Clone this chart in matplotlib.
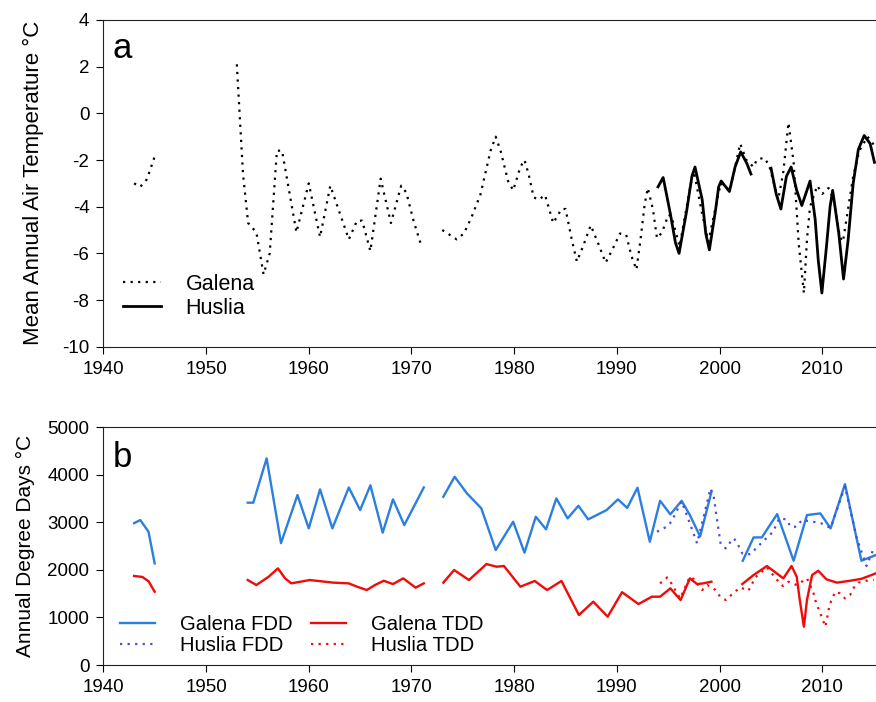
import matplotlib
matplotlib.use("Agg")
import matplotlib.pyplot as plt
import numpy as np

plt.rcParams['font.family'] = ['Liberation Sans', 'DejaVu Sans']
plt.rcParams['axes.unicode_minus'] = False

nan = np.nan

# ---- panel a: mean annual air temperature (deg C), nan = gap in record
galena_t_yr = [1943.0, 1943.6, 1944.2, 1944.5, 1945.0, nan,
               1953.0, 1953.6, 1954.1, 1954.9, 1955.6, 1956.2, 1956.9, 1957.4, 1958.8,
               1960.0, 1961.1, 1962.1, 1963.9, 1964.7, 1965.2, 1966.0, 1967.0, 1968.0,
               1969.0, 1969.5, 1970.2, 1970.9, nan,
               1973.0, 1974.4, 1975.1, 1975.8, 1976.7, 1977.7, 1978.2, 1978.7, 1979.4,
               1979.9, 1980.6, 1981.0, 1981.4, 1981.9, 1982.4, 1983.0, 1983.8, 1984.6,
               1985.0, 1985.6, 1986.1, 1986.7, 1987.45, 1988.2, 1988.9, 1989.6, 1990.3,
               1990.9, 1991.4, 1991.9, 1992.3, 1992.7, 1993.0, 1993.5, 1993.9, 1994.4,
               1995.0, 1995.3, 1996.1, 1997.2, 1997.5, 1998.2, 1998.9, 2000.1, 2001.0,
               2002.0, 2002.6, 2003.3, 2003.6, 2004.3, 2004.8, 2005.7, 2006.2, 2006.7,
               2007.2, 2007.7, 2008.2, 2008.5, 2008.8, 2009.5, 2010.0, 2010.6, 2011.1,
               2011.7, 2012.0, 2013.0, 2013.6, 2014.4, 2015.1]
galena_t = [-3.0, -3.15, -2.85, -2.5, -1.85, nan,
            2.1, -2.6, -4.7, -5.1, -6.9, -6.0, -1.6, -1.6, -5.1,
            -3.0, -5.3, -3.1, -5.4, -4.6, -4.6, -5.9, -2.8, -4.7,
            -3.1, -3.4, -4.6, -5.6, nan,
            -5.0, -5.4, -5.15, -4.5, -3.5, -1.6, -1.0, -1.65, -2.9,
            -3.3, -2.3, -2.0, -2.6, -3.6, -3.7, -3.5, -4.7, -4.1,
            -4.1, -5.4, -6.35, -5.7, -4.8, -5.6, -6.4, -5.8, -5.15,
            -5.2, -6.1, -6.7, -5.4, -3.9, -3.2, -4.1, -5.35, -5.1,
            -4.35, -4.4, -5.7, -3.0, -2.5, -4.1, -5.5, -3.0, -3.3,
            -1.3, -2.0, -2.3, -2.0, -1.9, -2.2, -3.7, -2.5, -0.4,
            -2.1, -5.6, -7.7, -5.4, -4.0, -3.1, -3.45, -3.2, -3.7,
            -5.3, -5.5, -2.7, -1.6, -1.0, -1.4]

huslia_t_yr = [1994.0, 1994.5, 1995.2, 1995.7, 1996.05, 1996.8, 1997.3, 1997.6, 1998.3,
               1998.65, 1999.0, 1999.6, 1999.9, 2000.15, 2000.95, 2001.5, 2002.05,
               2002.65, 2003.05, nan,
               2005.0, 2005.5, 2005.96, 2006.5, 2006.96, 2007.5, 2008.0, 2008.8, 2009.3,
               2009.6, 2009.95, 2010.4, 2010.75, 2011.0, 2011.6, 2012.06, 2012.5, 2013.0,
               2013.5, 2014.07, 2014.65, 2015.07]
huslia_t = [-3.15, -2.75, -4.3, -5.55, -6.0, -4.15, -2.7, -2.3, -3.7,
            -5.15, -5.85, -4.15, -3.15, -2.9, -3.35, -2.3, -1.65,
            -2.15, -2.6, nan,
            -2.35, -3.45, -4.1, -2.7, -2.3, -3.3, -3.95, -2.9, -4.55,
            -6.3, -7.7, -5.7, -4.0, -3.3, -5.15, -7.1, -5.45, -3.0,
            -1.55, -0.95, -1.3, -2.1]

# ---- panel b: annual degree days (deg C days)
galena_fdd_yr = [1943.0, 1943.6, 1944.4, 1945.0, nan,
                 1954.06, 1954.6, 1955.9, 1957.3, 1958.9, 1960.0, 1961.1, 1962.3, 1963.9,
                 1965.0, 1966.0, 1967.2, 1968.2, 1969.3, 1971.2, nan,
                 1973.1, 1974.2, 1975.4, 1976.5, 1976.8, 1978.2, 1979.9, 1981.0, 1982.1,
                 1983.1, 1984.1, 1985.2, 1986.25, 1987.2, 1989.0, 1990.1, 1991.0, 1992.0,
                 1993.2, 1994.2, 1995.2, 1996.3, 1997.1, 1998.1, 1999.2, nan,
                 2002.25, 2003.3, 2004.1, 2005.6, 2007.2, 2008.5, 2009.8, 2010.8, 2012.2,
                 2013.8, 2015.2]
galena_fdd = [2980, 3045, 2800, 2135, nan,
              3410, 3410, 4340, 2560, 3570, 2870, 3690, 2870, 3730,
              3255, 3775, 2780, 3480, 2940, 3730, nan,
              3535, 3955, 3605, 3360, 3290, 2415, 3010, 2360, 3115,
              2850, 3500, 3080, 3345, 3060, 3255, 3480, 3300, 3725,
              2590, 3450, 3165, 3450, 3150, 2700, 3640, nan,
              2190, 2680, 2680, 3170, 2190, 3150, 3185, 2870, 3800,
              2190, 2310]

huslia_fdd_yr = [1993.9, 1994.8, 1995.3, 1996.3, 1997.1, 1997.8, 1998.6, 1999.1, 1999.4,
                 1999.7, 2000.1, 2000.6, 2001.2, 2001.4, 2001.8, 2002.2, 2002.65, 2003.0,
                 2004.0, 2005.2, 2005.8, 2006.5, 2006.9, 2007.5, 2008.0, 2009.1, 2009.9,
                 2010.8, 2012.2, 2013.35, 2014.3, 2015.0]
huslia_fdd = [2800, 2900, 3010, 3440, 2975, 2555, 3255, 3710, 3570,
              3115, 2540, 2450, 2630, 2660, 2520, 2345, 2325, 2330,
              2550, 2800, 3080, 3060, 2905, 2905, 3045, 3010, 2975,
              2880, 3750, 2660, 2080, 2450]

galena_tdd_yr = [1943.0, 1943.8, 1944.4, 1945.0, nan,
                 1954.06, 1954.9, 1956.1, 1957.0, 1957.7, 1958.3, 1960.1, 1962.4, 1963.9,
                 1964.7, 1965.65, 1966.45, 1967.3, 1968.2, 1969.2, 1970.4, 1971.2, nan,
                 1973.1, 1974.15, 1975.6, 1977.3, 1978.3, 1979.0, 1980.6, 1982.0, 1983.2,
                 1984.6, 1986.3, 1987.7, 1989.1, 1990.5, 1992.1, 1993.4, 1994.2, 1995.2,
                 1996.2, 1997.1, 1997.8, 1998.4, 1999.2, nan,
                 2002.2, 2003.3, 2004.6, 2006.2, 2007.0, 2007.5, 2007.8, 2008.2, 2008.5,
                 2009.0, 2009.6, 2010.4, 2011.4, 2012.7, 2013.8, 2015.2]
galena_tdd = [1870, 1850, 1760, 1540, nan,
              1785, 1680, 1855, 2030, 1820, 1715, 1785, 1730, 1715,
              1645, 1575, 1680, 1770, 1700, 1820, 1625, 1715, nan,
              1730, 1995, 1785, 2120, 2065, 2080, 1645, 1765, 1575,
              1765, 1050, 1330, 1015, 1530, 1280, 1435, 1435, 1610,
              1365, 1820, 1700, 1715, 1750, nan,
              1700, 1890, 2080, 1820, 2080, 1855, 1365, 805, 1365,
              1890, 1980, 1800, 1730, 1770, 1810, 1925]

huslia_tdd_yr = [1994.2, 1994.9, 1995.3, 1996.15, 1997.1, 1997.5, 1998.3, 1998.8, 1999.6,
                 2000.05, 2000.6, 2001.3, 2002.0, 2002.8, 2003.5, 2004.6, 2005.6, 2006.15,
                 2006.7, 2007.5, 2008.5, 2009.1, 2009.4, 2009.8, 2010.05, 2010.3, 2010.6,
                 2010.76, 2011.25, 2011.7, 2012.2, 2012.7, 2013.0, 2013.5, 2014.3, 2015.0]
huslia_tdd = [1715, 1840, 1715, 1400, 1855, 1800, 1575, 1680, 1575,
              1435, 1365, 1505, 1630, 1560, 1850, 2050, 1785, 1660,
              1750, 1680, 1820, 1540, 1295, 1085, 945, 805, 1155,
              1295, 1540, 1505, 1400, 1470, 1610, 1730, 1770, 1790]

xticks = [1940, 1950, 1960, 1970, 1980, 1990, 2000, 2010]

W, H = 876, 702
fig = plt.figure(figsize=(W / 100, H / 100), dpi=100)
ax1 = fig.add_axes([103.3 / W, 1 - 346.7 / H, 772.7 / W, 326.7 / H])
ax2 = fig.add_axes([103.3 / W, 1 - 665 / H, 772.7 / W, 238 / H])

blue = '#2b7fe0'
red = '#f00a0a'
dots = (0, (1, 2.4))

ax1.plot(galena_t_yr, galena_t, color='black', lw=1.6, linestyle=dots, label='Galena')
ax1.plot(huslia_t_yr, huslia_t, color='black', lw=2.0, label='Huslia')
ax1.set_ylim(-10, 4)
ax1.set_yticks(range(-10, 5, 2))
ax1.set_ylabel('Mean Annual Air Temperature °C', fontsize=16, labelpad=13)
ax1.text(113 / W, 1 - 58 / H, 'a', transform=fig.transFigure, fontsize=25, va='baseline')
ax1.legend(loc='upper left', bbox_to_anchor=(123 / W, 1 - 274 / H), bbox_transform=fig.transFigure,
           frameon=False, fontsize=15.5, handlelength=1.75, handletextpad=1.15,
           labelspacing=0.12, borderpad=0, borderaxespad=0)

ax2.plot(galena_fdd_yr, galena_fdd, color=blue, lw=1.7, label='Galena FDD')
ax2.plot(huslia_fdd_yr, huslia_fdd, color='#4a4ae0', lw=1.6, linestyle=dots, label='Huslia FDD')
ax2.plot(galena_tdd_yr, galena_tdd, color=red, lw=1.7, label='Galena TDD')
ax2.plot(huslia_tdd_yr, huslia_tdd, color=red, lw=1.6, linestyle=dots, label='Huslia TDD')
ax2.set_ylim(0, 5000)
ax2.set_yticks(range(0, 5001, 1000))
ax2.set_ylabel('Annual Degree Days °C', fontsize=15, labelpad=9)
ax2.text(113 / W, 1 - 467 / H, 'b', transform=fig.transFigure, fontsize=25, va='baseline')
ax2.legend(loc='upper left', bbox_to_anchor=(120 / W, 1 - 615 / H), bbox_transform=fig.transFigure,
           ncol=2, frameon=False, fontsize=14.6, handlelength=1.75, handletextpad=1.2,
           columnspacing=0.9, labelspacing=0.1, borderpad=0, borderaxespad=0)

for ax in (ax1, ax2):
    ax.set_xlim(1940, 2015.22)
    ax.set_xticks(xticks)
    ax.tick_params(direction='out', length=5, width=0.8, labelsize=13.5, pad=5)
    ax.spines['right'].set_visible(False)
    for s in ('left', 'bottom', 'top'):
        ax.spines[s].set_linewidth(0.8)
        ax.spines[s].set_color('#222222')

fig.savefig('out.png', dpi=100)
